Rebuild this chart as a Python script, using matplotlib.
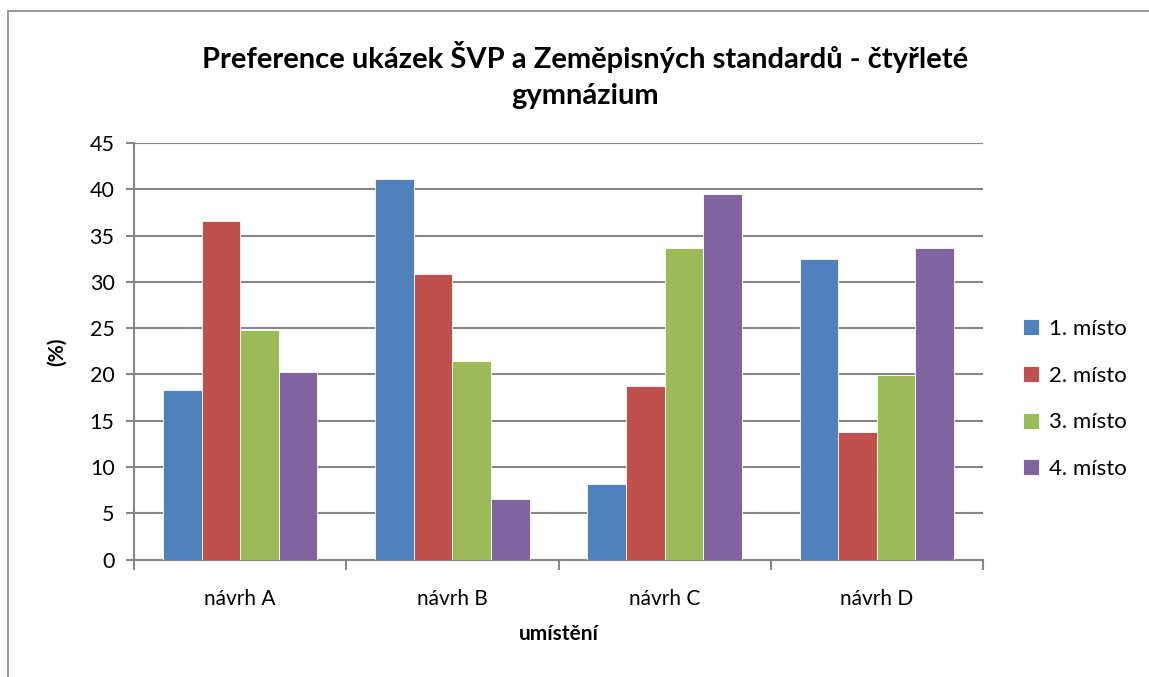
import numpy as np
import matplotlib
matplotlib.use("Agg")
import matplotlib.pyplot as plt
from matplotlib.patches import Rectangle

plt.rcParams['font.family'] = ['Lato', 'DejaVu Sans']

# data
categories = ['návrh A', 'návrh B', 'návrh C', 'návrh D']
series_names = ['1. místo', '2. místo', '3. místo', '4. místo']
misto1 = [18.3, 41.1, 8.2, 32.5]
misto2 = [36.6, 30.9, 18.7, 13.8]
misto3 = [24.8, 21.5, 33.7, 19.9]
misto4 = [20.3, 6.5, 39.5, 33.7]
colors = ['#4F81BD', '#C0504D', '#9BBB59', '#8064A2']

W, H = 1149, 677
fig = plt.figure(figsize=(W / 100, H / 100), dpi=100)

# chart frame (cut off at right/bottom as in the reference)
fig.patches.append(Rectangle((8 / W, -0.1), 1.2, 1 - 11 / H + 0.1,
                             transform=fig.transFigure, fill=False,
                             edgecolor='#868686', linewidth=1.2))

ax = fig.add_axes([134 / W, 1 - 559.5 / H, (983 - 134) / W, (559.5 - 143) / H])

x = np.arange(len(categories))
bw = 1 / 5.5
for i, vals in enumerate([misto1, misto2, misto3, misto4]):
    ax.bar(x + (i - 1.5) * bw, vals, bw, color=colors[i], edgecolor='white',
           linewidth=0.6, label=series_names[i], zorder=3)

ax.set_xlim(-0.5, 3.5)
ax.set_ylim(0, 45)
ax.set_yticks(np.arange(0, 46, 5))
ax.yaxis.grid(True, color='#868686', linewidth=1.5, zorder=0)
ax.set_axisbelow(True)

ax.set_xticks(x)
ax.set_xticklabels(categories, fontsize=15)
ax.set_xticks(np.arange(-0.5, 3.6, 1), minor=True)
ax.tick_params(axis='x', which='major', length=0, pad=21)
ax.tick_params(axis='x', which='minor', length=7, width=1.5, color='#868686', direction='out')
ax.tick_params(axis='y', length=6, width=1.5, color='#868686', labelsize=15.5, pad=8)

for s in ['top', 'right']:
    ax.spines[s].set_visible(False)
for s in ['left', 'bottom']:
    ax.spines[s].set_color('#868686')
    ax.spines[s].set_linewidth(1.5)

ax.set_xlabel('umístění', fontsize=15, fontweight='bold', labelpad=11)
ax.set_ylabel('(%)', fontsize=15, fontweight='bold', labelpad=16)

fig.text(585 / W, 1 - 75 / H,
         'Preference ukázek ŠVP a Zeměpisných standardů - čtyřleté\ngymnázium',
         ha='center', va='center', fontsize=21, fontweight='bold',
         linespacing=1.5)

ax.legend(loc='center left', bbox_to_anchor=(1.024, 0.385), frameon=False,
          fontsize=16, handlelength=0.72, handleheight=0.72,
          labelspacing=1.2, handletextpad=0.45)

fig.savefig('out.png', dpi=100)
